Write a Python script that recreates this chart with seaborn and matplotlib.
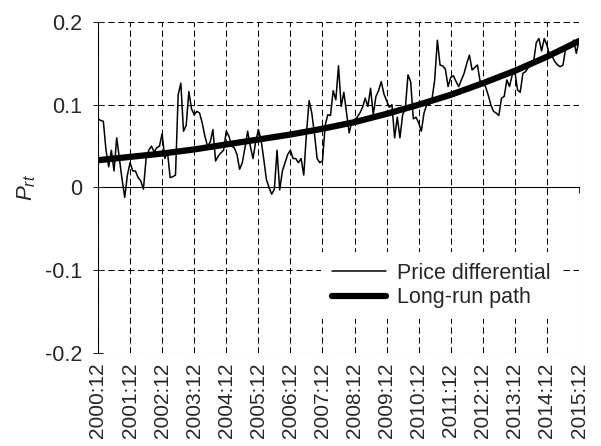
import pandas as pd
import seaborn as sns
import matplotlib
matplotlib.use("Agg")
import matplotlib.pyplot as plt

# x tick labels (one per December) and their month positions
tick_labels = ["2000:12", "2001:12", "2002:12", "2003:12", "2004:12", "2005:12",
               "2006:12", "2007:12", "2008:12", "2009:12", "2010:12", "2011:12",
               "2012:12", "2013:12", "2014:12", "2015:12"]
tick_months = [0, 12, 24, 36, 48, 60, 72, 84, 96, 108, 120, 132, 144, 156, 168, 180]

# long-run path, read at each December
long_run = [0.033, 0.037, 0.041, 0.046, 0.052, 0.058, 0.064, 0.071,
            0.079, 0.089, 0.100, 0.112, 0.126, 0.141, 0.158, 0.177]

# monthly price differential, 2000:12 - 2015:12
price_diff = [
    0.083, 0.081, 0.080, 0.045, 0.025, 0.045, 0.020, 0.060, 0.035, 0.010, -0.012, 0.015,
    0.030, 0.020, 0.020, 0.012, 0.008, -0.002, 0.035, 0.045, 0.050, 0.043, 0.048, 0.050,
    0.065, 0.035, 0.043, 0.012, 0.013, 0.015, 0.112, 0.126, 0.068, 0.075, 0.116, 0.095,
    0.088, 0.092, 0.090, 0.078, 0.062, 0.050, 0.055, 0.070, 0.032, 0.038, 0.042, 0.045,
    0.068, 0.062, 0.050, 0.048, 0.040, 0.022, 0.030, 0.048, 0.068, 0.050, 0.035, 0.055,
    0.070, 0.058, 0.035, 0.010, 0.000, -0.008, -0.002, 0.045, -0.003, 0.020, 0.030, 0.040,
    0.045, 0.035, 0.035, 0.030, 0.035, 0.015, 0.065, 0.105, 0.090, 0.065, 0.035, 0.030,
    0.032, 0.075, 0.088, 0.087, 0.117, 0.106, 0.147, 0.098, 0.115, 0.090, 0.066, 0.080,
    0.082, 0.085, 0.090, 0.097, 0.108, 0.098, 0.120, 0.088, 0.110, 0.117, 0.128, 0.113,
    0.105, 0.097, 0.100, 0.060, 0.085, 0.060, 0.088, 0.095, 0.136, 0.128, 0.083, 0.085,
    0.078, 0.068, 0.090, 0.100, 0.100, 0.107, 0.130, 0.178, 0.148, 0.147, 0.143, 0.122,
    0.133, 0.135, 0.128, 0.122, 0.130, 0.138, 0.150, 0.160, 0.142, 0.145, 0.148, 0.128,
    0.128, 0.122, 0.112, 0.100, 0.092, 0.090, 0.087, 0.108, 0.110, 0.130, 0.122, 0.136,
    0.140, 0.118, 0.115, 0.138, 0.140, 0.145, 0.150, 0.152, 0.175, 0.180, 0.165, 0.180,
    0.172, 0.160, 0.158, 0.152, 0.148, 0.146, 0.148, 0.168, 0.170, 0.172, 0.178, 0.162,
    0.178,
]

y_ticks = [-0.2, -0.1, 0, 0.1, 0.2]
y_tick_labels = ["-0.2", "-0.1", "0", "0.1", "0.2"]

sns.set_style("white")
plt.rcParams['font.family'] = ['Liberation Sans', 'DejaVu Sans']
plt.rcParams['mathtext.fontset'] = 'custom'
plt.rcParams['mathtext.it'] = 'Liberation Sans:italic'
plt.rcParams['mathtext.rm'] = 'Liberation Sans'
plt.rcParams['axes.unicode_minus'] = False

df = pd.DataFrame({"month": range(len(price_diff)), "value": price_diff})
trend = pd.DataFrame({"month": tick_months, "value": long_run})

fig = plt.figure(figsize=(6.01, 4.46), dpi=100)
ax = fig.add_axes([98 / 601, 1 - 353 / 446, 481 / 601, 331 / 446])

sns.lineplot(data=df, x="month", y="value", color="black", lw=1.1, ax=ax,
             label="Price differential")
sns.lineplot(data=trend, x="month", y="value", color="black", lw=4.5, ax=ax,
             label="Long-run path")

ax.set_xlim(0, 180)
ax.set_ylim(-0.2, 0.2)

# dashed grid, which also draws the outer border
ax.grid(True, linestyle=(0, (6, 3.5)), color="black", lw=0.75)
for side in ["top", "right", "bottom"]:
    ax.spines[side].set_visible(False)
ax.spines["left"].set_color("black")
ax.spines["left"].set_linewidth(0.75)

ax.set_yticks(y_ticks, y_tick_labels)
ax.tick_params(axis="y", direction="inout", length=7, width=0.75, pad=8,
               labelsize=15.5, left=True)
ax.set_xticks(tick_months, tick_labels, rotation=90)
ax.tick_params(axis="x", length=0, pad=7, labelsize=15)

# solid x axis through zero with tick marks
sec = ax.secondary_xaxis(0.5)
sec.set_xticks(tick_months)
sec.set_xticklabels([])
sec.tick_params(direction="in", length=4, width=0.75)
for s in sec.spines.values():
    s.set_color("black")
    s.set_linewidth(0.75)

ax.set_xlabel("")
ax.set_ylabel(r"$P_{rt}$", fontsize=16)
ax.yaxis.set_label_coords(-0.125, 0.5)

ax.legend(loc="upper left", bbox_to_anchor=(0.464, 0.305), borderaxespad=0,
          frameon=True, facecolor="white", edgecolor="none", framealpha=1,
          fancybox=False, handlelength=2.5, handletextpad=0.5,
          labelspacing=0.15, borderpad=0.5, fontsize=15.5)

fig.savefig("out.png", dpi=100)
